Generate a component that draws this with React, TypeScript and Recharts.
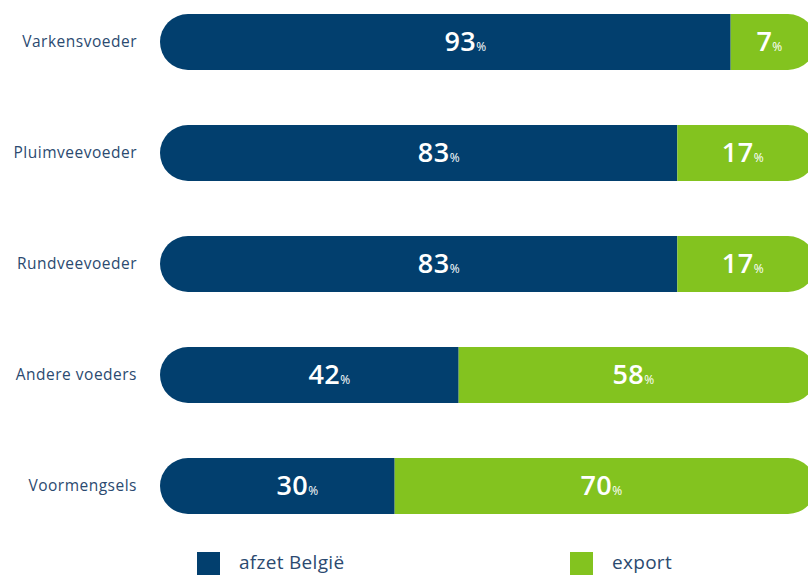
import React from "react";
import { Bar, BarChart, LabelList, XAxis, YAxis } from "recharts";

// share of sales per feed type (%)
const categories = ["Varkensvoeder", "Pluimveevoeder", "Rundveevoeder", "Andere voeders", "Voormengsels"];
const afzetBelgie = [93, 83, 83, 42, 30];
const exportShare = [7, 17, 17, 58, 70];

const NAVY = "#023f6e";
const GREEN = "#83c31f";
const INK = "#2b4a70";
const FONT = "'Open Sans', sans-serif";

// axis runs past 0 and 100 so the pill caps sit outside the value range
const AXIS_MIN = -14;
const AXIS_MAX = 109;
const VIEW_RIGHT = 808;

const data = categories.map((name, i) => ({
  name,
  belgie: afzetBelgie[i],
  export: exportShare[i]
}));

function PctText({ cx, cy, value }: { cx: number; cy: number; value: number }) {
  return (
    <text x={cx} y={cy + 9} textAnchor="middle" fill="#ffffff" fontFamily={FONT}>
      <tspan fontSize={27} fontWeight={600} letterSpacing={0.5}>{value}</tspan>
      <tspan fontSize={12} fontWeight={400}>%</tspan>
    </text>
  );
}

function BelgieLabel(props: any) {
  const { x, y, width, height, value } = props;
  return <PctText cx={x + width / 2 + 20} cy={y + height / 2} value={value} />;
}

function ExportLabel(props: any) {
  const { x, y, width, height, value } = props;
  const right = Math.min(x + width, VIEW_RIGHT);
  return <PctText cx={(x + right) / 2} cy={y + height / 2} value={value} />;
}

function LegendItem({ left, color, label }: { left: number; color: string; label: string }) {
  return (
    <div style={{ position: "absolute", left, top: 0, display: "flex", alignItems: "flex-start" }}>
      <div style={{ width: 23, height: 23, background: color }} />
      <span
        style={{
          marginLeft: 19,
          fontSize: 19,
          color: INK,
          lineHeight: "20px",
          letterSpacing: 0.3,
          fontFamily: FONT
        }}
      >
        {label}
      </span>
    </div>
  );
}

export default function App() {
  return (
    <div
      style={{
        position: "absolute",
        left: 0,
        top: 0,
        width: 808,
        height: 575,
        overflow: "hidden",
        background: "#ffffff",
        fontFamily: FONT
      }}
    >
      <div style={{ position: "absolute", left: 0, top: -14 }}>
        <BarChart
          width={816}
          height={555}
          data={data}
          layout="vertical"
          margin={{ top: 0, right: 0, bottom: 0, left: 0 }}
          barSize={56}
          barGap={-56}
        >
          <XAxis type="number" domain={[AXIS_MIN, AXIS_MAX]} allowDataOverflow hide />
          <YAxis
            type="category"
            dataKey="name"
            width={160}
            axisLine={false}
            tickLine={false}
            tickSize={0}
            tickMargin={23}
            tick={{ fill: INK, fontSize: 15.5, fontFamily: FONT, letterSpacing: 0.5 }}
          />
          <Bar
            dataKey={(d: any) => [AXIS_MIN, d.belgie]}
            fill={NAVY}
            radius={[28, 0, 0, 28]}
            isAnimationActive={false}
          >
            <LabelList dataKey="belgie" content={BelgieLabel} />
          </Bar>
          <Bar
            dataKey={(d: any) => [d.belgie, AXIS_MAX]}
            fill={GREEN}
            radius={[0, 28, 28, 0]}
            isAnimationActive={false}
          >
            <LabelList dataKey="export" content={ExportLabel} />
          </Bar>
        </BarChart>
      </div>
      <div style={{ position: "absolute", left: 0, top: 552, width: 808, height: 23 }}>
        <LegendItem left={197} color={NAVY} label="afzet België" />
        <LegendItem left={570} color={GREEN} label="export" />
      </div>
    </div>
  );
}
